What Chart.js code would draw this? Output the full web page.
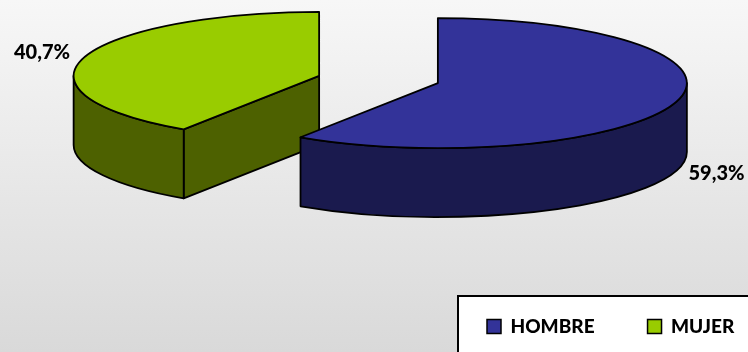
<!DOCTYPE html>
<html>
<head>
<meta charset="utf-8">
<script src="https://cdn.jsdelivr.net/npm/chart.js@4/dist/chart.umd.js"></script>
<style>
  html, body { margin: 0; padding: 0; background: #e4e4e4; overflow: hidden; }
  canvas { display: block; }
</style>
</head>
<body>
<canvas id="chart" width="748" height="352"></canvas>
<script>
const categories = ['HOMBRE', 'MUJER']
const shares = [59.3, 40.7]
const topColors = ['#333399', '#99CC00']
const wallColors = ['#1A1A4E', '#4D6100']

// layout of the fake 3D pie
const centerX = 378.5
const centerY = 79.5
const explode = 62
const explodeTilt = 0.2
const radiusX = [249, 245.5]
const radiusY = [65, 64]
const depth = 69
const edgeWidth = 1.8
const labelAnchors = [[716.5, 174], [42, 53]]
const labelFont = "900 20px Lato, 'Open Sans', sans-serif"

function sliceGeometry(arc, i) {
  const mid = (arc.startAngle + arc.endAngle) / 2
  return {
    x: centerX + Math.cos(mid) * explode,
    y: centerY + Math.sin(mid) * explode * explodeTilt,
    rx: radiusX[i],
    ry: radiusY[i],
    a0: arc.startAngle,
    a1: arc.endAngle
  }
}

function rimPoint(g, a) {
  return [g.x + Math.cos(a) * g.rx, g.y + Math.sin(a) * g.ry]
}

function drawWalls(ctx, g, color) {
  ctx.fillStyle = color
  ctx.strokeStyle = '#000'
  ctx.lineWidth = edgeWidth
  ctx.lineJoin = 'round'

  // cut face at the start of the slice, only visible when it looks toward us
  if (Math.cos(g.a0) < -0.001) {
    const p = rimPoint(g, g.a0)
    ctx.beginPath()
    ctx.moveTo(g.x, g.y)
    ctx.lineTo(p[0], p[1])
    ctx.lineTo(p[0], p[1] + depth)
    ctx.lineTo(g.x, g.y + depth)
    ctx.closePath()
    ctx.fill()
    ctx.stroke()
  }

  // outer wall, front half of the ellipse only
  const from = Math.max(g.a0, 0)
  const to = Math.min(g.a1, Math.PI)
  if (to > from) {
    ctx.beginPath()
    ctx.ellipse(g.x, g.y, g.rx, g.ry, 0, from, to)
    ctx.ellipse(g.x, g.y + depth, g.rx, g.ry, 0, to, from, true)
    ctx.closePath()
    ctx.fill()
    ctx.stroke()
  }
}

const pie3d = {
  id: 'pie3d',
  beforeDraw(chart) {
    const { ctx, width, height } = chart
    const grad = ctx.createLinearGradient(0, 0, 0, height)
    grad.addColorStop(0, '#F7F7F7')
    grad.addColorStop(1, '#D9D9D9')
    ctx.save()
    ctx.fillStyle = grad
    ctx.fillRect(0, 0, width, height)
    // legend frame runs off the right and bottom of the picture
    ctx.fillStyle = '#fff'
    ctx.strokeStyle = '#000'
    ctx.lineWidth = 2
    ctx.fillRect(458, 296, 300, 70)
    ctx.strokeRect(458, 296, 300, 70)
    ctx.restore()
  },
  afterLayout(chart) {
    // place the legend inside the frame
    const lg = chart.legend
    const pad = lg.options.labels.padding
    lg.left = 487 - pad
    lg.right = lg.left + lg.width
    lg.top = 317 - pad
    lg.bottom = lg.top + lg.height
  },
  beforeDatasetDraw(chart, args) {
    const { ctx } = chart
    const arcs = args.meta.data
    const geo = arcs.map(sliceGeometry)

    // back slice first, the blue wall sits in front of the green one
    ctx.save()
    for (let i = arcs.length - 1; i >= 0; i--) drawWalls(ctx, geo[i], wallColors[i])

    arcs.forEach((arc, i) => {
      const g = geo[i]
      ctx.save()
      ctx.translate(g.x, g.y)
      ctx.scale(g.rx / arc.outerRadius, g.ry / arc.outerRadius)
      ctx.translate(-arc.x, -arc.y)
      arc.draw(ctx)
      ctx.restore()

      // outline done out here so the tilt does not thin the stroke
      ctx.beginPath()
      ctx.moveTo(g.x, g.y)
      ctx.ellipse(g.x, g.y, g.rx, g.ry, 0, g.a0, g.a1)
      ctx.closePath()
      ctx.strokeStyle = '#000'
      ctx.lineWidth = edgeWidth
      ctx.stroke()
    })
    ctx.restore()
    return false
  },
  afterDraw(chart) {
    const { ctx } = chart
    ctx.save()
    ctx.font = labelFont
    ctx.fillStyle = '#000'
    ctx.textAlign = 'center'
    ctx.textBaseline = 'middle'
    shares.forEach((v, i) => {
      ctx.fillText(v.toFixed(1).replace('.', ',') + '%', labelAnchors[i][0], labelAnchors[i][1])
    })
    ctx.restore()
  }
}

new Chart(document.getElementById('chart'), {
  type: 'pie',
  plugins: [pie3d],
  data: {
    labels: categories,
    datasets: [{ data: shares, backgroundColor: topColors, borderWidth: 0, clip: false }]
  },
  options: {
    responsive: false,
    animation: false,
    layout: { padding: 0 },
    plugins: {
      tooltip: { enabled: false },
      legend: {
        position: 'bottom',
        align: 'start',
        labels: {
          color: '#000',
          boxWidth: 14,
          boxHeight: 14,
          padding: 53,
          font: { family: "Lato, 'Open Sans', sans-serif", size: 19, weight: 900 },
          generateLabels(chart) {
            return categories.map((name, i) => ({
              text: name,
              fillStyle: topColors[i],
              strokeStyle: '#000',
              lineWidth: 1.5,
              index: i
            }))
          }
        }
      }
    }
  }
})
</script>
</body>
</html>
